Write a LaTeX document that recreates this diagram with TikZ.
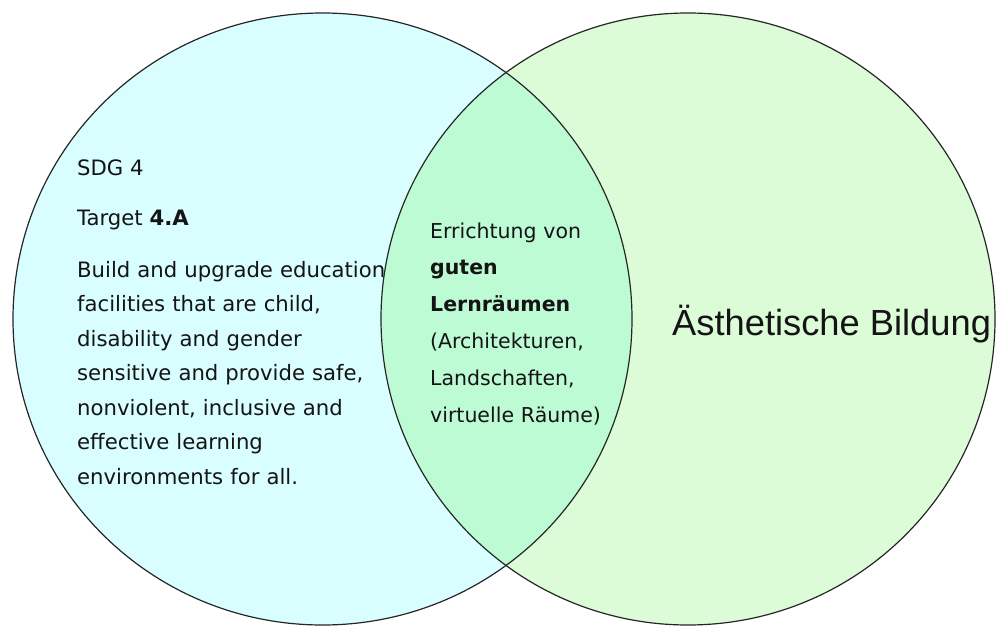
\documentclass[tikz,border=0pt]{standalone}
\usepackage{fontspec}
\setmainfont{DejaVu Sans}
\newfontfamily\headfont{Liberation Sans}
\definecolor{leftfill}{HTML}{D9FEFF}
\definecolor{rightfill}{HTML}{DBFCD7}
\definecolor{midfill}{HTML}{BDFBD5}
\definecolor{ink}{HTML}{141414}
\begin{document}
\begin{tikzpicture}[x=1pt,y=-1pt,
  ring/.style={draw=black!85, line width=1.2pt},
  plaintext/.style={anchor=base west, inner sep=0pt, text=ink, font=\fontsize{21.2}{24}\selectfont},
  bodytext/.style={anchor=base west, inner sep=0pt, text=ink, align=left, text width=360pt, font=\fontsize{21.2}{34.5}\selectfont},
  midtext/.style={anchor=base west, inner sep=0pt, text=ink, align=left, text width=220pt, font=\fontsize{20.5}{36.8}\selectfont},
  bigtext/.style={anchor=base west, inner sep=0pt, text=ink, font=\headfont\fontsize{36.3}{40}\selectfont}]
\useasboundingbox (0,0) rectangle (1001,626);
\begin{scope}
  \clip (0,0) rectangle (1001,626);
  \fill[leftfill] (322.5,319) ellipse [x radius=309.5, y radius=306];
  \fill[rightfill] (688,319) ellipse [x radius=307, y radius=306];
  \begin{scope}
    \clip (322.5,319) ellipse [x radius=309.5, y radius=306];
    \fill[midfill] (688,319) ellipse [x radius=307, y radius=306];
  \end{scope}
  \draw[ring] (322.5,319) ellipse [x radius=309.5, y radius=306];
  \draw[ring] (688,319) ellipse [x radius=307, y radius=306];
\end{scope}
\node[plaintext] (sdg) at (77,175) {SDG 4};
\node[plaintext] (target) at (77,225) {Target \textbf{4.A}};
\node[bodytext] (body) at (77,277) {Build and upgrade education\\
facilities that are child,\\
disability and gender\\
sensitive and provide safe,\\
nonviolent, inclusive and\\
effective learning\\
environments for all.};
\node[midtext] (mid) at (430,238) {Errichtung von\\
\textbf{guten}\\
\textbf{Lernräumen}\\
(Architekturen,\\
Landschaften,\\
virtuelle Räume)};
\node[bigtext] (big) at (672,335) {Ästhetische Bildung};
\end{tikzpicture}
\end{document}
